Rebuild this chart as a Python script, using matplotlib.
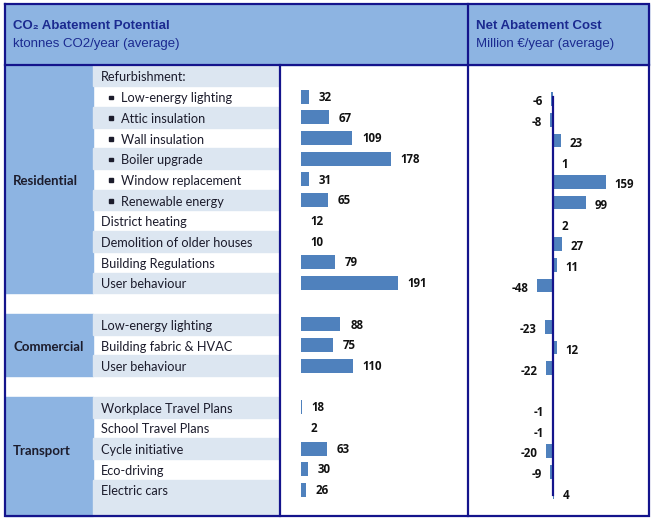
import matplotlib
matplotlib.use("Agg")
import matplotlib.pyplot as plt
from matplotlib.patches import Rectangle

# data
residential_measures = ["Low-energy lighting", "Attic insulation", "Wall insulation",
                        "Boiler upgrade", "Window replacement", "Renewable energy",
                        "District heating", "Demolition of older houses",
                        "Building Regulations", "User behaviour"]
residential_potential = [32, 67, 109, 178, 31, 65, 12, 10, 79, 191]
residential_cost = [-6, -8, 23, 1, 159, 99, 2, 27, 11, -48]
refurbishment_items = 6  # first six residential measures are refurbishment bullets

commercial_measures = ["Low-energy lighting", "Building fabric & HVAC", "User behaviour"]
commercial_potential = [88, 75, 110]
commercial_cost = [-23, 12, -22]

transport_measures = ["Workplace Travel Plans", "School Travel Plans", "Cycle initiative",
                      "Eco-driving", "Electric cars"]
transport_potential = [18, 2, 63, 30, 26]
transport_cost = [-1, -1, -20, -9, 4]

sectors = ["Residential", "Commercial", "Transport"]

NAVY = "#14148c"
HEAD = "#8db4e2"
LIGHT = "#dce6f1"
BAR = "#4f81bd"
TXT = "#1c1c2c"
HTXT = "#1b2a90"

W, H = 659, 522
fig = plt.figure(figsize=(W / 100, H / 100), dpi=100)
ax = fig.add_axes([0, 0, 1, 1])
ax.set_xlim(0, W)
ax.set_ylim(H, 0)
ax.axis("off")

# table geometry in pixels
left, right, top, bottom = 5, 649, 4, 516
head_bot = 65
col_sector, col_label, col_div = 93, 278, 468
y0, pitch = 65.6, 20.7


def row_top(i):
    return y0 + pitch * i


# rows: 0 = "Refurbishment:", then residential, gap, commercial, gap, transport
rows = [("Refurbishment:", False, None, None)]
for k, m in enumerate(residential_measures):
    rows.append((m, k < refurbishment_items, residential_potential[k], residential_cost[k]))
rows.append(None)
for k, m in enumerate(commercial_measures):
    rows.append((m, False, commercial_potential[k], commercial_cost[k]))
rows.append(None)
for k, m in enumerate(transport_measures):
    rows.append((m, False, transport_potential[k], transport_cost[k]))
n_rows = len(rows)

# header band
ax.add_patch(Rectangle((left, top), right - left, head_bot - top, color=HEAD, zorder=0))

# sector blocks
blocks = []
start = 0
for i, r in enumerate(rows + [None]):
    if r is None:
        blocks.append((start, i - 1))
        start = i + 1
for (a, b), name in zip(blocks, sectors):
    ya = head_bot if a == 0 else row_top(a)
    yb = bottom if b == n_rows - 1 else row_top(b + 1)
    ax.add_patch(Rectangle((col_sector - (col_sector - left), ya), col_sector - left, yb - ya,
                           color=HEAD, zorder=0))
    ymid = (row_top(a) + row_top(b + 1)) / 2 + 2
    ax.text(13, ymid, name, ha="left", va="center", fontsize=9.5,
            fontweight="bold", color=TXT, family="Lato")

# label rows
shade = True
for i, r in enumerate(rows):
    if r is None:
        shade = True
        continue
    ya = head_bot if i == 0 else row_top(i)
    yb = bottom if i == n_rows - 1 else row_top(i + 1)
    if shade:
        ax.add_patch(Rectangle((col_sector, ya), col_label - col_sector, yb - ya,
                               color=LIGHT, zorder=0))
    shade = not shade
    label, bullet, _, _ = r
    yc = row_top(i) + pitch / 2 + 1.5 if i > 0 else 77
    if bullet:
        ax.add_patch(Rectangle((109, yc - 2.5), 3.5, 3.5, color=TXT, zorder=2))
        ax.text(121, yc, label, ha="left", va="center", fontsize=9.2, color=TXT, family="Lato")
    else:
        ax.text(101, yc, label, ha="left", va="center", fontsize=9.2, color=TXT, family="Lato")

# frame lines
lw = 1.6
ax.plot([left, right, right, left, left], [top, top, bottom, bottom, top], color=NAVY, lw=lw,
        solid_joinstyle="miter", zorder=5)
ax.plot([left, right], [head_bot, head_bot], color=NAVY, lw=lw, zorder=5)
ax.plot([col_div, col_div], [top, bottom], color=NAVY, lw=lw, zorder=5)
ax.plot([280, 280], [head_bot, bottom], color=NAVY, lw=lw, zorder=5)

# header text
hfam = ["Liberation Sans", "DejaVu Sans"]
ax.text(13, 26, "CO₂ Abatement Potential", fontsize=9.5, fontweight="bold", color=HTXT,
        family=hfam, va="center")
ax.text(13, 43.5, "ktonnes CO2/year (average)", fontsize=9.5, color=HTXT, family=hfam,
        va="center")
ax.text(476, 26, "Net Abatement Cost", fontsize=9.5, fontweight="bold", color=HTXT,
        family=hfam, va="center")
ax.text(476, 43.5, "Million €/year (average)", fontsize=9.5, color=HTXT, family=hfam,
        va="center")

# bar axes share a row scale
ytop = (head_bot - (y0 + pitch / 2)) / pitch
ybot = (bottom - (y0 + pitch / 2)) / pitch
idx = [i for i, r in enumerate(rows) if r is not None and r[2] is not None]
pot = [rows[i][2] for i in idx]
cost = [rows[i][3] for i in idx]


def px_axes(x0, x1, ya, yb):
    return fig.add_axes([x0 / W, 1 - yb / H, (x1 - x0) / W, (yb - ya) / H])


# abatement potential: value axis starts at 17
pmin, pscale = 17, 0.556
axp = px_axes(301, col_div - 1, head_bot, bottom)
axp.set_xlim(pmin, pmin + (col_div - 1 - 301) / pscale)
axp.set_ylim(ybot, ytop)
axp.axis("off")
axp.barh(idx, pot, height=0.68, color=BAR)
for y, v in zip(idx, pot):
    axp.annotate(str(v), (max(v, pmin), y), xytext=(7, -0.5), textcoords="offset points",
                 ha="left", va="center", fontsize=8.3, fontweight="bold", color="#111111",
                 family="Open Sans", annotation_clip=False)

# net cost
zero_px, cscale = 553, 0.335
cshift = 0.12
axc = px_axes(col_div + 1, right - 1, head_bot, bottom)
axc.set_xlim((col_div + 1 - zero_px) / cscale, (right - 1 - zero_px) / cscale)
axc.set_ylim(ybot, ytop)
axc.axis("off")
yc_ = [y + cshift for y in idx]
axc.barh(yc_, cost, height=0.66, color=BAR)
axc.plot([0, 0], [1.0, 20.25], color=NAVY, lw=1.6, zorder=3)
for y, v in zip(yc_, cost):
    off = 6 if v >= 0 else -6
    axc.annotate(str(v), (v, y), xytext=(off, -2), textcoords="offset points",
                 ha="left" if v >= 0 else "right", va="center", fontsize=8.3,
                 fontweight="bold", color="#111111", family="Open Sans",
                 annotation_clip=False)

fig.savefig("out.png", dpi=100)
